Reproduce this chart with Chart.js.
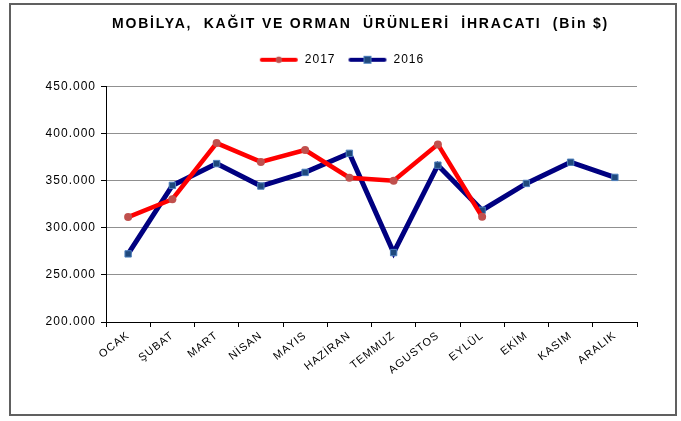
<!DOCTYPE html>
<html><head><meta charset="utf-8">
<script src="https://cdn.jsdelivr.net/npm/chart.js@4.4.1/dist/chart.umd.min.js"></script>
<style>html,body{margin:0;padding:0;background:#fff}#c{display:block}</style>
</head><body>
<canvas id="c" width="681" height="421"></canvas>
<script>
const months = ['OCAK','ŞUBAT','MART','NİSAN','MAYIS','HAZİRAN','TEMMUZ','AGUSTOS','EYLÜL','EKİM','KASIM','ARALIK'];
const values2017 = [311.5, 330.5, 390.2, 370.2, 382.8, 353.3, 350.1, 388.8, 311.8, null, null, null];
const values2016 = [272.4, 345.2, 368.4, 344.5, 359.0, 379.3, 273.8, 366.7, 318.8, 347.3, 369.8, 353.7];
const yTicks = [200, 250, 300, 350, 400, 450];
const titleText = 'MOBİLYA,  KAĞIT VE ORMAN  ÜRÜNLERİ  İHRACATI  (Bin $)';

const FONT = "'Liberation Sans', Arial, sans-serif";

function legendIcon(lineColor, markerFn) {
  const cv = document.createElement('canvas');
  cv.width = 40; cv.height = 10;
  const g = cv.getContext('2d');
  g.strokeStyle = lineColor; g.lineWidth = 4; g.lineCap = 'round';
  g.beginPath(); g.moveTo(3, 5); g.lineTo(37, 5); g.stroke();
  markerFn(g);
  return cv;
}
const icon2017 = legendIcon('#FF0000', g => { g.fillStyle = '#C0504D'; g.beginPath(); g.arc(20, 5, 3.2, 0, Math.PI*2); g.fill(); });
const icon2016 = legendIcon('#000080', g => { g.fillStyle = '#1F497D'; g.strokeStyle = '#4F81BD'; g.lineWidth = 1; g.fillRect(16.5, 1.5, 7, 7); g.strokeRect(16.5, 1.5, 7, 7); });

const SPACING = '1px';
const framePlugin = {
  id: 'frame',
  beforeUpdate(chart) { chart.ctx.letterSpacing = SPACING; },
  afterLayout(chart) {
    const t = chart.titleBlock, l = chart.legend;
    if (t) { t.left += 37; t.right += 37; t.top -= 6; t.bottom -= 6;
      if (!t._wrapped) { const orig = t.draw.bind(t); t.draw = function () { const c = chart.ctx; const prev = c.letterSpacing; c.letterSpacing = '1.8px'; orig(); c.letterSpacing = prev; }; t._wrapped = true; } }
    if (l) { l.left += 18; l.right += 18; l.top -= 11; l.bottom -= 11; }
  },
  beforeDraw(chart) {
    const c = chart.ctx;
    c.letterSpacing = SPACING;
    c.save();
    c.fillStyle = '#fff'; c.fillRect(0, 0, chart.width, chart.height);
    c.strokeStyle = '#606060'; c.lineWidth = 2;
    c.strokeRect(10, 4, 666, 411);
    c.restore();
  }
};

new Chart(document.getElementById('c'), {
  type: 'line',
  data: {
    labels: months,
    datasets: [
      { label: '2017', data: values2017, borderColor: '#FF0000', borderWidth: 4.5,
        pointStyle: 'circle', pointRadius: 4, pointBackgroundColor: '#C0504D', pointBorderColor: '#C0504D', pointBorderWidth: 0,
        tension: 0, spanGaps: false },
      { label: '2016', data: values2016, borderColor: '#000080', borderWidth: 5,
        pointStyle: 'rect', pointRadius: 4.5, pointBackgroundColor: '#1F497D', pointBorderColor: '#4F81BD', pointBorderWidth: 1,
        tension: 0 }
    ]
  },
  options: {
    responsive: false,
    animation: false,
    layout: { padding: { left: 10, right: 44, top: 18, bottom: 18 } },
    plugins: {
      title: { display: true, text: titleText, color: '#000',
        font: { family: FONT, size: 14, weight: 'bold' }, padding: { top: 4, bottom: 14 } },
      legend: {
        display: true,
        labels: {
          color: '#000', font: { family: FONT, size: 12 },
          usePointStyle: true, pointStyleWidth: 40, boxHeight: 10, padding: 12,
          generateLabels(chart) {
            return chart.data.datasets.map((ds, i) => ({
              text: ds.label, pointStyle: i === 0 ? icon2017 : icon2016,
              fillStyle: 'transparent', strokeStyle: 'transparent', lineWidth: 0,
              fontColor: '#000', datasetIndex: i, hidden: false
            }));
          }
        }
      },
      tooltip: { enabled: false }
    },
    scales: {
      x: {
        offset: true,
        grid: { display: true, drawOnChartArea: false, drawTicks: true, tickLength: 5, offset: true, color: '#000', tickColor: '#000' },
        border: { display: true, color: '#000', width: 1 },
        ticks: { color: '#000', font: { family: FONT, size: 11 }, minRotation: 38, maxRotation: 38, autoSkip: false, padding: 2 },
        afterFit(s) { s.height = 81; }
      },
      y: {
        min: 200, max: 450,
        afterBuildTicks(s) { s.ticks = yTicks.map(v => ({ value: v })); },
        grid: { color: '#909090', lineWidth: 1, drawTicks: true, tickLength: 5, tickColor: '#000' },
        border: { display: true, color: '#000', width: 1 },
        ticks: { color: '#000', font: { family: FONT, size: 12 }, padding: 5,
          callback: v => v + '.000' },
        afterFit(s) { s.width = 96; }
      }
    }
  },
  plugins: [framePlugin]
});
</script>
</body></html>
